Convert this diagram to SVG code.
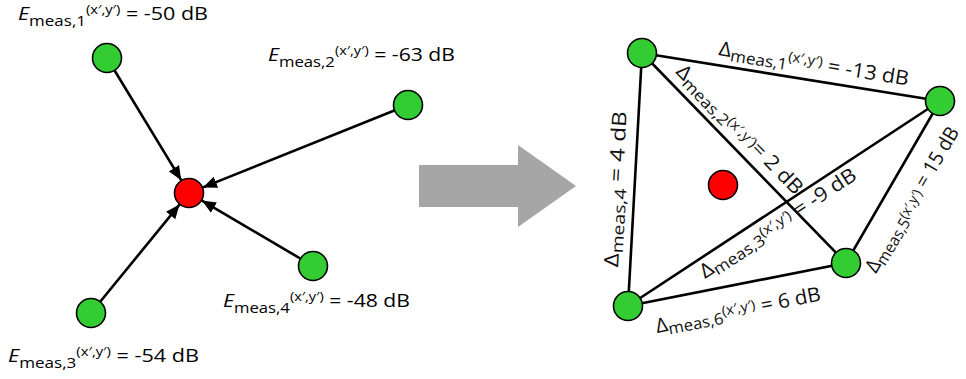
<svg xmlns="http://www.w3.org/2000/svg" width="966" height="379" viewBox="0 0 966 379">
  <style>
    .bg { fill: #ffffff; }
    .green { fill: #33cc33; stroke: #000000; stroke-width: 1.6; }
    .red { fill: #ff0000; stroke: #000000; stroke-width: 1.6; }
    .edge { stroke: #000000; stroke-width: 2.6; fill: none; stroke-linecap: round; }
    .lbl { font-family: "Open Sans", "Noto Sans", "DejaVu Sans", sans-serif; font-size: 19px; fill: #000000; }
    .lblR { font-family: "Open Sans", "Noto Sans", "DejaVu Sans", sans-serif; font-size: 20px; fill: #111111; }
    .it { font-style: italic; }
    .sub { font-size: 15px; }
    .sup { font-size: 13px; }
    .subR { font-size: 16px; }
    .supR { font-size: 14px; }
  </style>
  <defs>
    <marker id="head" markerUnits="userSpaceOnUse" markerWidth="15" markerHeight="12" refX="14" refY="6" orient="auto">
      <path d="M0,0 L14,6 L0,12 z" fill="#000000"/>
    </marker>
  </defs>

  <rect class="bg" x="0" y="0" width="966" height="379"/>

  <!-- left: field strengths measured at four sensors, pointing to the target -->
  <g id="connectors-left">
    <line class="edge" x1="107" y1="58" x2="181.2" y2="180.2" marker-end="url(#head)"/>
    <line class="edge" x1="408" y1="105" x2="203" y2="187.4" marker-end="url(#head)"/>
    <line class="edge" x1="91" y1="313" x2="179.5" y2="204.6" marker-end="url(#head)"/>
    <line class="edge" x1="313" y1="266" x2="201.9" y2="200.6" marker-end="url(#head)"/>
  </g>

  <g id="target-left"><circle class="red" cx="189" cy="193" r="14.5"/></g>
  <g id="sensor-1"><circle class="green" cx="107" cy="58" r="14.5"/></g>
  <g id="sensor-2"><circle class="green" cx="408" cy="105" r="14.5"/></g>
  <g id="sensor-3"><circle class="green" cx="91" cy="313" r="14.5"/></g>
  <g id="sensor-4"><circle class="green" cx="313" cy="266" r="14.5"/></g>

  <g id="labels-left">
    <text class="lbl" x="18" y="20" textLength="190" lengthAdjust="spacingAndGlyphs"><tspan class="it">E</tspan><tspan class="sub" dy="5.5">meas,1</tspan><tspan class="sup" dy="-11.5">(x′,y′)</tspan><tspan dy="6"> = -50 dB</tspan></text>
    <text class="lbl" x="268" y="61" textLength="187" lengthAdjust="spacingAndGlyphs"><tspan class="it">E</tspan><tspan class="sub" dy="5.5">meas,2</tspan><tspan class="sup" dy="-11.5">(x′,y′)</tspan><tspan dy="6"> = -63 dB</tspan></text>
    <text class="lbl" x="8" y="362" textLength="191" lengthAdjust="spacingAndGlyphs"><tspan class="it">E</tspan><tspan class="sub" dy="5.5">meas,3</tspan><tspan class="sup" dy="-11.5">(x′,y′)</tspan><tspan dy="6"> = -54 dB</tspan></text>
    <text class="lbl" x="223" y="307" textLength="187" lengthAdjust="spacingAndGlyphs"><tspan class="it">E</tspan><tspan class="sub" dy="5.5">meas,4</tspan><tspan class="sup" dy="-11.5">(x′,y′)</tspan><tspan dy="6"> = -48 dB</tspan></text>
  </g>

  <!-- transition arrow -->
  <g id="transition">
    <polygon points="419,165 518,165 518,145 576,186 518,227 518,207 419,207" fill="#a6a6a6"/>
  </g>

  <!-- right: pairwise differences between sensors -->
  <g id="connectors-right">
    <line class="edge" x1="642" y1="53" x2="940" y2="101"/>
    <line class="edge" x1="642" y1="53" x2="846" y2="263"/>
    <line class="edge" x1="628" y1="306" x2="940" y2="101"/>
    <line class="edge" x1="642" y1="53" x2="628" y2="306"/>
    <line class="edge" x1="846" y1="263" x2="940" y2="101"/>
    <line class="edge" x1="628" y1="306" x2="846" y2="263"/>
  </g>

  <g id="target-right"><circle class="red" cx="723" cy="185" r="14.5"/></g>
  <g id="node-a"><circle class="green" cx="642" cy="53" r="14.5"/></g>
  <g id="node-b"><circle class="green" cx="940" cy="101" r="14.5"/></g>
  <g id="node-c"><circle class="green" cx="628" cy="306" r="14.5"/></g>
  <g id="node-d"><circle class="green" cx="846" cy="263" r="14.5"/></g>

  <g id="labels-right">
    <g transform="translate(718,55) rotate(9.15)">
      <text class="lblR" x="0" y="0" textLength="192" lengthAdjust="spacingAndGlyphs">Δ<tspan class="subR" dy="4">meas,1</tspan><tspan class="supR" dy="-9">(x′,y′)</tspan><tspan dy="5"> = -13 dB</tspan></text>
    </g>
    <g transform="translate(675,72.5) rotate(45.8)">
      <text class="lblR" x="0" y="0" textLength="172" lengthAdjust="spacingAndGlyphs">Δ<tspan class="subR" dy="4">meas,2</tspan><tspan class="supR" dy="-6">(x′,y′)</tspan><tspan dy="2">= 2 dB</tspan></text>
    </g>
    <g transform="translate(705,279) rotate(-33.3)">
      <text class="lblR" x="0" y="0" textLength="183" lengthAdjust="spacingAndGlyphs">Δ<tspan class="subR" dy="4">meas,3</tspan><tspan class="supR" dy="-7">(x′,y′)</tspan><tspan dy="3"> = -9 dB</tspan></text>
    </g>
    <g transform="translate(618,267.4) rotate(-86.8)">
      <text class="lblR" x="0" y="0" textLength="156" lengthAdjust="spacingAndGlyphs">Δ<tspan class="subR" dy="4">meas,4</tspan><tspan dy="-4"> = 4 dB</tspan></text>
    </g>
    <g transform="translate(876,274) rotate(-59.5)">
      <text class="lblR" x="0" y="0" textLength="165" lengthAdjust="spacingAndGlyphs">Δ<tspan class="subR" dy="4">meas,5</tspan><tspan class="supR" dy="-5">(x′,y′)</tspan><tspan dy="1"> = 15 dB</tspan></text>
    </g>
    <g transform="translate(657,333) rotate(-11.2)">
      <text class="lblR" x="0" y="0" textLength="168" lengthAdjust="spacingAndGlyphs">Δ<tspan class="subR" dy="4">meas,6</tspan><tspan class="supR" dy="-8">(x′,y′)</tspan><tspan dy="4"> = 6 dB</tspan></text>
    </g>
  </g>
</svg>
